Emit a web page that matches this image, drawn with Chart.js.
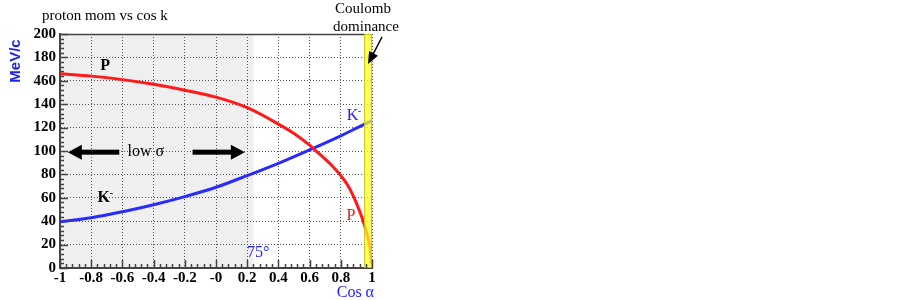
<!DOCTYPE html>
<html><head><meta charset="utf-8">
<script src="https://cdn.jsdelivr.net/npm/chart.js@4/dist/chart.umd.min.js"></script>
<style>html,body{margin:0;padding:0;background:#fff}#wrap{width:902px;height:300px;position:relative}</style>
</head><body><div id="wrap"><canvas id="c" width="902" height="300"></canvas></div>
<script>
// Proton momentum (MeV/c) vs cos(alpha)
const protonCos = [-1, -0.8, -0.6, -0.4, -0.2, 0, 0.2, 0.4, 0.5, 0.6, 0.65, 0.7, 0.75, 0.8, 0.85, 0.9, 0.94, 0.97, 0.99, 1];
const protonMom = [166, 164, 161, 157, 152, 146, 137, 123, 115, 105, 99, 93, 86.5, 79, 69.5, 55.5, 41.5, 28, 16, 3];
// K- momentum (MeV/c) vs cos(alpha)
const kaonCos = [-1, -0.8, -0.6, -0.4, -0.2, 0, 0.2, 0.4, 0.6, 0.8, 0.9, 1];
const kaonMom = [39.5, 43, 48, 54, 61, 69, 79, 89.5, 101, 113, 119.5, 126];
// tick labels as printed on the original
const xTickLabels = ['-1', '-0.8', '-0.6', '-0.4', '-0.2', '-0', '0.2', '0.4', '0.6', '0.8', '1'];
const yTickLabels = ['0', '20', '40', '60', '80', '100', '120', '140', '460', '180', '200'];
// regions
const lowSigmaRange = [-1, 0.24];
const coulombRange = [0.95, 1];

const toXY = (xs, ys) => xs.map((x, i) => ({x: x, y: ys[i]}));

const serif = 'Liberation Serif, Times New Roman, serif';

const deco = {
  id: 'deco',
  beforeDraw(chart) {
    const {ctx, chartArea: a, scales: {x, y}} = chart;
    ctx.save();
    ctx.fillStyle = '#fff';
    ctx.fillRect(0, 0, chart.width, chart.height);
    ctx.fillStyle = '#efefef';
    const x0 = x.getPixelForValue(lowSigmaRange[0]);
    const x1 = x.getPixelForValue(lowSigmaRange[1]);
    ctx.fillRect(x0, a.top, x1 - x0, a.bottom - a.top);
    ctx.restore();
  },
  afterDatasetsDraw(chart) {
    const {ctx, chartArea: a, scales: {x, y}} = chart;
    ctx.save();
    // Coulomb band
    const cx0 = x.getPixelForValue(coulombRange[0]);
    const cx1 = x.getPixelForValue(coulombRange[1]);
    ctx.fillStyle = 'rgba(255,255,40,0.72)';
    ctx.fillRect(cx0, a.top, cx1 - cx0, a.bottom - a.top);
    ctx.strokeStyle = '#c8c800';
    ctx.lineWidth = 1;
    ctx.strokeRect(cx0 + 0.5, a.top + 0.5, cx1 - cx0 - 1, a.bottom - a.top - 1);

    // frame top
    ctx.strokeStyle = '#444';
    ctx.lineWidth = 1.5;
    ctx.beginPath();
    ctx.moveTo(a.left, a.top + 0.5);
    ctx.lineTo(cx0, a.top + 0.5);
    ctx.stroke();

    // ticks
    ctx.strokeStyle = '#444';
    ctx.lineWidth = 1.5;
    ctx.beginPath();
    for (let i = 0; i <= 50; i++) {
      const py = Math.round(y.getPixelForValue(i * 4)) + 0.5;
      const len = i % 5 === 0 ? 8 : 4;
      ctx.moveTo(a.left, py); ctx.lineTo(a.left + len, py);
      const px = Math.round(x.getPixelForValue(-1 + i * 0.04)) + 0.5;
      ctx.moveTo(px, a.bottom); ctx.lineTo(px, a.bottom - len);
    }
    ctx.stroke();

    // in-plot labels
    ctx.textAlign = 'center';
    ctx.textBaseline = 'middle';
    ctx.fillStyle = '#000';
    ctx.font = 'bold 16px ' + serif;
    ctx.fillText('P', x.getPixelForValue(-0.71), y.getPixelForValue(173));
    ctx.fillText('K', x.getPixelForValue(-0.72), y.getPixelForValue(60));
    ctx.font = 'bold 10px ' + serif;
    ctx.fillText('-', x.getPixelForValue(-0.67), y.getPixelForValue(64));

    ctx.font = '16px ' + serif;
    ctx.fillText('low σ', x.getPixelForValue(-0.45), y.getPixelForValue(99));

    ctx.fillStyle = '#2222ee';
    ctx.fillText('75°', x.getPixelForValue(0.27), y.getPixelForValue(13));
    ctx.fillText('K', x.getPixelForValue(0.875), y.getPixelForValue(130));
    ctx.font = '10px ' + serif;
    ctx.fillText('-', x.getPixelForValue(0.92), y.getPixelForValue(134));
    ctx.font = '16px ' + serif;
    ctx.fillStyle = '#ee1111';
    ctx.fillText('P', x.getPixelForValue(0.865), y.getPixelForValue(45));

    // low sigma arrows
    const arrowY = y.getPixelForValue(99);
    const hArrow = (tail, tip) => {
      const dir = Math.sign(tip - tail);
      ctx.fillStyle = '#000';
      ctx.fillRect(Math.min(tail, tip - dir * 12), arrowY - 2.5, Math.abs(tip - dir * 12 - tail), 5);
      ctx.beginPath();
      ctx.moveTo(tip, arrowY);
      ctx.lineTo(tip - dir * 14, arrowY - 7.5);
      ctx.lineTo(tip - dir * 14, arrowY + 7.5);
      ctx.closePath();
      ctx.fill();
    };
    hArrow(x.getPixelForValue(-0.62), x.getPixelForValue(-0.95));
    hArrow(x.getPixelForValue(-0.15), x.getPixelForValue(0.185));

    // Coulomb arrow
    const ax0 = 382, ay0 = 37, ax1 = 368, ay1 = 64;
    const dx = ax1 - ax0, dy = ay1 - ay0, L = Math.hypot(dx, dy);
    const ux = dx / L, uy = dy / L;
    ctx.strokeStyle = '#000';
    ctx.lineWidth = 1.5;
    ctx.beginPath();
    ctx.moveTo(ax0, ay0);
    ctx.lineTo(ax1 - ux * 10, ay1 - uy * 10);
    ctx.stroke();
    ctx.fillStyle = '#000';
    ctx.beginPath();
    ctx.moveTo(ax1, ay1);
    ctx.lineTo(ax1 - ux * 12 - uy * 5, ay1 - uy * 12 + ux * 5);
    ctx.lineTo(ax1 - ux * 12 + uy * 5, ay1 - uy * 12 - ux * 5);
    ctx.closePath();
    ctx.fill();

    // outside texts
    ctx.fillStyle = '#000';
    ctx.font = '15px ' + serif;
    ctx.textAlign = 'left';
    ctx.textBaseline = 'alphabetic';
    ctx.fillText('proton mom vs cos k', 42, 20);
    ctx.textAlign = 'center';
    ctx.fillText('Coulomb', 363, 13);
    ctx.fillText('dominance', 366, 31);

    ctx.fillStyle = '#2222ee';
    ctx.font = '16px ' + serif;
    ctx.textAlign = 'right';
    ctx.fillText('Cos α', 374, 297);

    ctx.save();
    ctx.translate(16, 61);
    ctx.rotate(-Math.PI / 2);
    ctx.textAlign = 'center';
    ctx.textBaseline = 'middle';
    ctx.font = 'bold 15px Liberation Sans, Arial, sans-serif';
    ctx.fillText('MeV/c', 0, 0);
    ctx.restore();

    ctx.restore();
  }
};

new Chart(document.getElementById('c'), {
  type: 'line',
  data: {
    datasets: [
      {label: 'P', data: toXY(protonCos, protonMom), borderColor: '#ff1a1a', borderWidth: 3,
       pointRadius: 0, cubicInterpolationMode: 'monotone', fill: false},
      {label: 'K-', data: toXY(kaonCos, kaonMom), borderColor: '#2a2aff', borderWidth: 3,
       pointRadius: 0, cubicInterpolationMode: 'monotone', fill: false}
    ]
  },
  options: {
    responsive: false,
    animation: false,
    devicePixelRatio: 1,
    layout: {padding: {left: 0, top: 34, right: 530, bottom: 0}},
    plugins: {legend: {display: false}, tooltip: {enabled: false}},
    scales: {
      x: {
        type: 'linear', min: -1, max: 1,
        afterFit: s => { s.height = 32; },
        ticks: {stepSize: 0.2, autoSkip: false, maxRotation: 0, padding: 1, color: '#000',
                font: {family: serif, size: 15, weight: 'bold'},
                callback: (v, i) => xTickLabels[i]},
        grid: {color: '#555', lineWidth: 1, drawTicks: false},
        border: {display: true, color: '#444', width: 2, dash: [1, 2]}
      },
      y: {
        type: 'linear', min: 0, max: 200,
        afterFit: s => { s.width = 60; },
        ticks: {stepSize: 20, autoSkip: false, padding: 4, color: '#000',
                font: {family: serif, size: 15, weight: 'bold'},
                callback: (v, i) => yTickLabels[i]},
        grid: {color: '#555', lineWidth: 1, drawTicks: false},
        border: {display: true, color: '#444', width: 2, dash: [1, 2]}
      }
    }
  },
  plugins: [deco]
});
</script></body></html>
